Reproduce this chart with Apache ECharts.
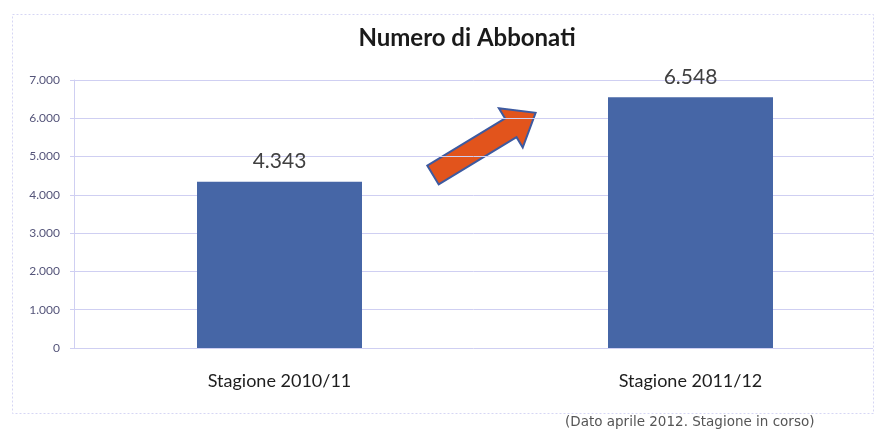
<!DOCTYPE html>
<html>
<head>
<meta charset="utf-8">
<script src="https://cdn.jsdelivr.net/npm/echarts@6/dist/echarts.min.js"></script>
<style>
  html, body { margin: 0; padding: 0; background: #fff; }
  #chart { width: 896px; height: 430px; }
</style>
</head>
<body>
<div id="chart"></div>
<script>
// Subscriber counts per season
const seasons = ['Stagione 2010/11', 'Stagione 2011/12'];
const subscribers = [4343, 6548];
const yTicks = [0, 1000, 2000, 3000, 4000, 5000, 6000, 7000];
const titleText = 'Numero di Abbonati';
const noteText = '(Dato aprile 2012. Stagione in corso)';

const fmt = v => String(v).replace(/\B(?=(\d{3})+(?!\d))/g, '.');
const font = 'Lato, "Open Sans", sans-serif';
const gridColor = '#cfcff2';

const chart = echarts.init(document.getElementById('chart'), null, { renderer: 'canvas' });

chart.setOption({
  backgroundColor: '#ffffff',
  animation: false,
  title: {
    text: titleText,
    left: 462, top: 21, textAlign: 'center',
    textStyle: { fontFamily: font, fontSize: 24, fontWeight: 'bold', color: '#1a1a1a' }
  },
  grid: [
    // frame for gridlines and axis labels
    { left: 74, top: 80, width: 799, height: 268 },
    // bars and category labels
    { left: 74, top: 80, width: 827, height: 268 }
  ],
  xAxis: [
    { gridIndex: 0, type: 'category', data: seasons, show: false },
    {
      gridIndex: 1, type: 'category', data: seasons,
      axisLine: { show: false }, axisTick: { show: false },
      axisLabel: { margin: 24, fontFamily: font, fontSize: 18, color: '#1e1e1e' }
    }
  ],
  yAxis: [
    {
      gridIndex: 0, type: 'value',
      min: yTicks[0], max: yTicks[yTicks.length - 1], interval: 1000,
      axisLine: { show: true, lineStyle: { color: gridColor, width: 1 } },
      axisTick: { show: true, length: 4, lineStyle: { color: gridColor } },
      splitLine: { show: true, lineStyle: { color: gridColor, width: 1 } },
      axisLabel: { margin: 14, fontFamily: font, fontSize: 12, color: '#55557a', formatter: fmt }
    },
    {
      gridIndex: 1, type: 'value',
      min: yTicks[0], max: yTicks[yTicks.length - 1], interval: 1000,
      show: false, splitLine: { show: false }
    }
  ],
  series: [{
    type: 'bar',
    xAxisIndex: 1, yAxisIndex: 1,
    data: subscribers,
    barWidth: 165,
    itemStyle: { color: '#4666a6' },
    label: {
      show: true, position: 'top', distance: 10,
      formatter: p => fmt(p.value),
      fontFamily: font, fontSize: 21, color: '#404040'
    }
  }],
  graphic: [
    {
      type: 'rect', silent: true, z: -1,
      shape: { x: 12.5, y: 14.5, width: 861, height: 399 },
      style: { fill: 'none', stroke: '#d6d6f4', lineWidth: 1, lineDash: [2, 2] }
    },
    {
      // rising-trend arrow between the two bars
      type: 'polygon', silent: true,
      x: 433, y: 175, rotation: 0.545,
      shape: { points: [[0, -11], [91, -11], [91, -23], [120, 0], [91, 23], [91, 11], [0, 11]] },
      style: { fill: '#e2541c', stroke: '#3d5aa0', lineWidth: 2, lineJoin: 'miter' }
    },
    {
      type: 'text', silent: true,
      x: 565, y: 415,
      style: { text: noteText, fontFamily: '"DejaVu Sans", sans-serif', fontSize: 13.5, fill: '#555555' }
    }
  ]
});
</script>
</body>
</html>
